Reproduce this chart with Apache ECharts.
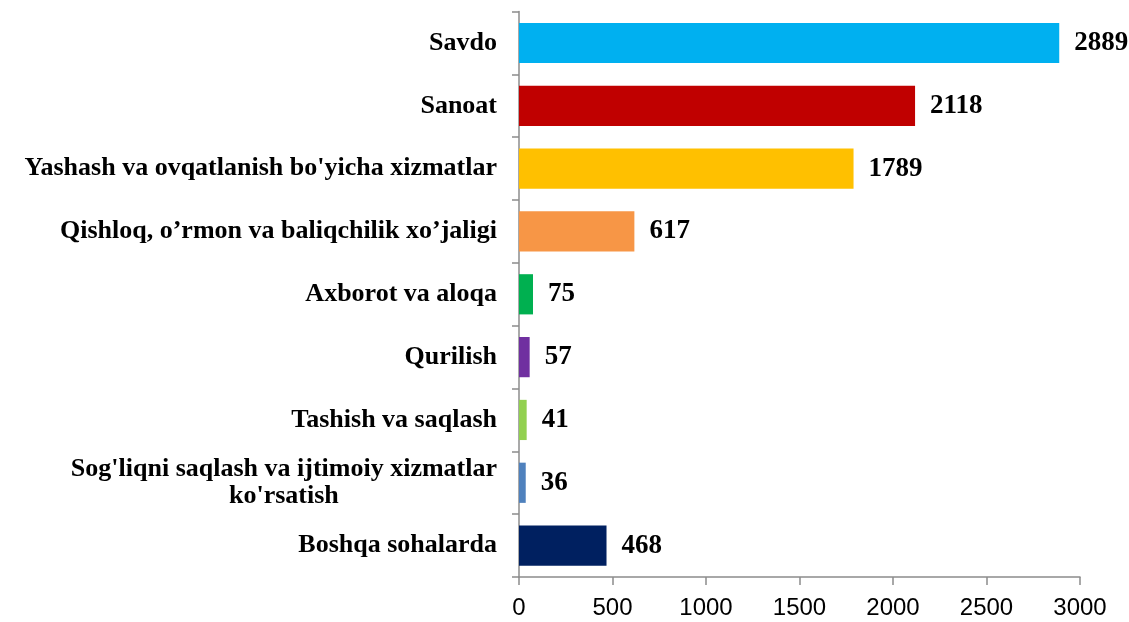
<!DOCTYPE html>
<html>
<head>
<meta charset="utf-8">
<script src="https://cdn.jsdelivr.net/npm/echarts@6/dist/echarts.min.js"></script>
<style>
html,body{margin:0;padding:0;background:#fff;}
#c{width:1129px;height:622px;}
</style>
</head>
<body>
<div id="c"></div>
<script>
var categories = [
  "Savdo",
  "Sanoat",
  "Yashash va ovqatlanish bo'yicha xizmatlar",
  "Qishloq, o\u2019rmon va baliqchilik xo\u2019jaligi",
  "Axborot va aloqa",
  "Qurilish",
  "Tashish va saqlash",
  "Sog'liqni saqlash va ijtimoiy xizmatlar\nko'rsatish",
  "Boshqa sohalarda"
];
var values = [2889, 2118, 1789, 617, 75, 57, 41, 36, 468];
var colors = ["#00B0F0", "#C00000", "#FFC000", "#F79646", "#00B050", "#7030A0", "#92D050", "#4F81BD", "#002060"];
var xTicks = [0, 500, 1000, 1500, 2000, 2500, 3000];

var chart = echarts.init(document.getElementById('c'), null, {renderer: 'canvas'});
var serif = "'Liberation Serif', 'Times New Roman', serif";
var data = values.map(function (v, i) {
  return {value: v, itemStyle: {color: colors[i]}};
});
chart.setOption({
  animation: false,
  backgroundColor: '#ffffff',
  grid: {left: 519, right: 49, top: 11.6, bottom: 45, containLabel: false},
  xAxis: {
    type: 'value',
    min: xTicks[0],
    max: xTicks[xTicks.length - 1],
    interval: xTicks[1] - xTicks[0],
    splitLine: {show: false},
    axisLine: {show: true, lineStyle: {color: '#8c8c8c', width: 1.5}},
    axisTick: {show: true, length: 8, lineStyle: {color: '#8c8c8c', width: 1.5}},
    axisLabel: {
      margin: 19,
      color: '#000',
      fontSize: 24,
      fontFamily: "'Liberation Sans', sans-serif",
      formatter: function (v) { return String(v); }
    }
  },
  yAxis: {
    type: 'category',
    data: categories,
    inverse: true,
    axisLine: {show: true, lineStyle: {color: '#8c8c8c', width: 1.5}},
    axisTick: {show: true, length: 7, alignWithLabel: false, lineStyle: {color: '#8c8c8c', width: 1.5}},
    axisLabel: {
      margin: 22,
      color: '#000',
      formatter: function (v) {
        return v.split('\n').map(function (s) { return '{c|' + s + '}'; }).join('\n');
      },
      rich: {
        c: {
          align: 'center',
          fontSize: 26,
          fontWeight: 'bold',
          fontFamily: serif,
          color: '#000',
          lineHeight: 27
        }
      }
    }
  },
  series: [{
    type: 'bar',
    data: data,
    barWidth: '64%',
    label: {
      show: true,
      position: 'right',
      distance: 15,
      color: '#000',
      fontSize: 27,
      fontWeight: 'bold',
      fontFamily: serif
    }
  }]
});
</script>
</body>
</html>
